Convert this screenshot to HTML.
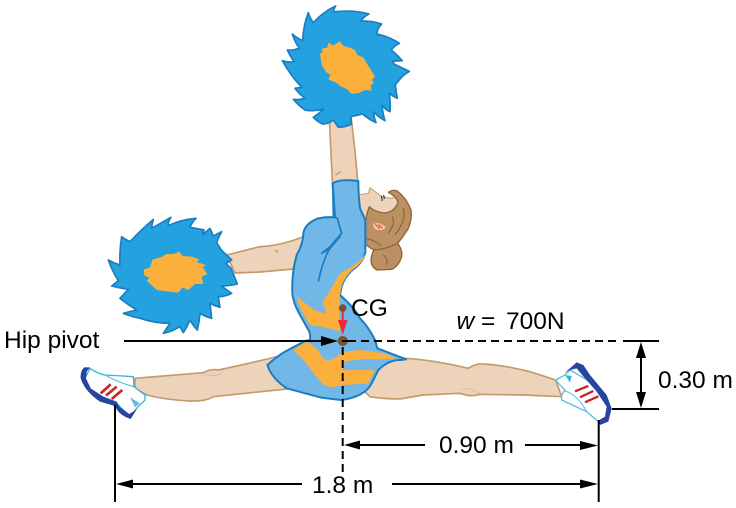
<!DOCTYPE html>
<html lang="en">
<head>
<meta charset="utf-8">
<title>Cheerleader center of gravity diagram</title>
<style>
html,body{margin:0;padding:0;background:#fff;width:736px;height:508px;overflow:hidden}
svg{display:block}
text{font-family:"Liberation Sans",sans-serif;font-size:24.5px;fill:#000}
</style>
</head>
<body>
<svg width="736" height="508" viewBox="0 0 736 508" xmlns="http://www.w3.org/2000/svg">

<!-- raised arm and upper pom pom -->
<g transform="translate(270,0) scale(0.33333)">
  <path d="M178,350 Q182,450 188,560 L264,560 Q258,470 243,350 Z" fill="#eed3bb" stroke="#c49a6c" stroke-width="5"/>
  <path d="M196,525 L212,516" stroke="#c49a6c" stroke-width="4" fill="none"/>
  <path d="M197,18 Q190,28 192,36 Q245,28 297,42 Q280,50 273,63 Q305,62 335,72 Q322,85 320,102 Q358,110 388,130 Q372,138 364,150 Q382,165 397,182 L368,184 L372,192 L418,214 Q398,225 386,242 L376,254 Q378,275 382,295 Q370,290 358,280 Q362,310 360,335 Q348,330 336,316 Q338,340 345,362 Q326,352 310,335 Q312,352 318,368 Q296,358 278,342 L243,350 Q242,362 245,372 Q225,382 205,382 L190,360 Q175,372 158,372 Q142,365 130,352 Q145,342 160,328 Q130,335 105,330 Q85,316 70,298 Q88,300 105,295 Q88,282 75,265 L95,262 Q60,225 37,182 Q55,188 72,185 Q60,168 52,150 Q70,152 88,145 Q74,125 67,102 Q82,115 98,122 Q100,75 115,38 Q120,55 130,68 Q160,35 197,18 Z" fill="#23a2df" stroke="#1c7cc0" stroke-width="5" stroke-linejoin="round"/>
  <path d="M150,162 L158,155 L155,146 L172,143 L175,128 L190,136 L210,124 L220,138 L238,142 L255,150 L262,165 L280,172 L290,190 L300,205 L315,230 L305,240 L312,248 L302,256 L305,272 L285,270 L270,278 L245,282 L232,268 L210,258 L198,248 L175,238 L182,225 L168,216 L155,195 Z" fill="#fbaf3c"/>
</g>

<!-- head, coordinates of torso crop -->
<g transform="translate(260,175) scale(0.33333)">
  <path d="M-100,240 L0,215 Q65,212 130,185 L130,270 L100,282 L0,291 L-75,294 Z" fill="#eed3bb" stroke="#c49a6c" stroke-width="5"/>
  <path d="M44,226 L54,224 L52,235 Z" fill="#c49a6c"/>
  <path d="M290,60 L325,55 L330,38 L365,65 L395,70 L414,60 L416,85 L395,110 L360,118 L330,100 L322,135 L316,170 L290,120 Z" fill="#eed3bb" stroke="#c49a6c" stroke-width="3" stroke-linejoin="round"/>
  <path d="M385,52 Q400,42 412,48 Q440,70 453,105 Q456,135 445,160 Q430,185 413,205 Q428,225 425,245 Q415,275 395,283 L350,285 Q333,275 333,255 Q335,235 342,225 Q322,215 316,205 L316,150 Q318,120 328,95 Q345,112 375,114 Q405,110 414,82 Q410,65 385,52 Z" fill="#bb9063" stroke="#8f6335" stroke-width="4" stroke-linejoin="round"/>
  <path d="M342,225 Q380,222 413,205 M430,100 Q440,135 405,180 M395,125 Q410,140 385,175 M318,190 Q340,195 365,212 M370,240 Q385,250 380,270" stroke="#8f6335" stroke-width="3.5" fill="none"/>
  <path d="M338,148 Q352,136 378,156 Q372,168 352,166 Q340,160 338,148 Z" fill="#eed3bb" stroke="#c49a6c" stroke-width="2"/>
  <path d="M345,147 L360,162 M355,148 L368,160" stroke="#f26b3a" stroke-width="5" fill="none"/>
  <path d="M364,62 L367,78 M371,60 L373,72" stroke="#222" stroke-width="3" fill="none"/>
</g>

<!-- left pom pom -->
<g transform="translate(100,210) scale(0.33333)">
  <path d="M213,22 Q203,35 205,47 Q245,28 288,25 Q275,38 270,52 L312,60 L308,74 L330,55 L340,78 L365,65 Q356,80 350,98 L364,120 L395,150 L378,160 L393,175 L412,222 Q388,228 365,228 Q380,240 395,250 Q375,260 355,260 L360,292 Q345,288 330,280 L335,325 Q315,320 300,310 Q298,335 292,360 Q278,345 270,330 Q262,350 250,368 L240,350 Q215,365 190,370 Q200,355 210,340 Q165,340 120,325 Q95,320 70,310 Q90,305 110,300 Q85,285 60,265 Q72,252 85,238 Q60,235 35,228 L55,212 Q35,180 25,150 Q42,160 60,165 Q58,120 65,80 Q78,90 90,95 Q125,58 160,28 Q156,42 155,55 Q185,38 213,22 Z" fill="#23a2df" stroke="#1c7cc0" stroke-width="5" stroke-linejoin="round"/>
  <path d="M132,178 L150,172 L158,148 L182,142 L200,132 L220,132 L238,125 L248,138 L275,140 L298,148 L290,156 L318,165 L308,172 L322,192 L305,200 L310,222 L285,222 L265,240 L248,232 L235,248 L208,245 L170,240 L155,226 L140,212 L148,204 L132,195 Z" fill="#fbaf3c"/>
</g>

<!-- left leg, right leg -->
<g transform="translate(90,200) scale(0.33333)">
  <path d="M135,535 L340,518 Q365,505 385,510 Q480,490 580,465 L610,565 L370,590 Q345,605 300,603 Q230,600 170,585 L135,565 Z" fill="#eed3bb" stroke="#c49a6c" stroke-width="5"/>
  <path d="M340,520 Q370,535 398,518" stroke="#dcbfa2" stroke-width="3" fill="none"/>
</g>
<g transform="translate(390,300) scale(0.33333)">
  <path d="M-60,150 L45,175 Q130,180 235,205 Q255,190 280,192 Q340,195 420,215 L497,240 L515,290 L400,285 L270,283 Q240,292 210,280 L100,285 L30,297 Q-20,297 -60,290 L-90,260 Z" fill="#eed3bb" stroke="#c49a6c" stroke-width="5"/>
  <path d="M212,272 Q225,255 270,280" stroke="#dcbfa2" stroke-width="3" fill="none"/>
</g>

<!-- dress -->
<g transform="translate(260,175) scale(0.33333)">
  <path d="M218,25 Q240,10 295,18 Q295,60 300,100 L316,135 L316,230 Q312,255 290,275 Q255,300 245,335 L240,360 Q285,400 300,430 Q325,455 345,495 L352,520 L438,553 L420,555 Q385,555 355,585 L335,625 Q315,665 245,675 Q200,670 180,667 L80,640 Q35,610 22,570 Q50,545 75,530 L135,498 L150,495 Q152,480 148,470 L120,420 Q95,375 97,345 Q95,295 110,240 Q130,205 130,175 Q135,145 175,130 Q200,125 225,127 Z" fill="#71b7e7" stroke="#1c7cc0" stroke-width="6" stroke-linejoin="round"/>
  <path d="M316,238 Q312,255 290,275 Q255,300 245,335 L240,360 L238,405 L240,470 L195,457 L150,450 Q130,420 115,385 L100,335 L108,365 L130,380 L160,403 L200,417 L187,380 L205,355 L240,295 Q290,270 316,238 Z" fill="#fbaf3c"/>
  <path d="M100,525 L140,500 L170,520 L190,550 L205,558 L230,545 L250,530 L300,525 L375,535 L410,550 L370,553 L300,553 L255,560 L248,585 L345,585 L325,625 L250,630 L215,637 L190,630 L165,600 L130,555 Z" fill="#fbaf3c"/>
  <path d="M240,360 Q285,400 300,430 Q325,455 345,495 L352,520 M316,135 L316,230" stroke="#1c7cc0" stroke-width="5" fill="none"/>
  <path d="M222,127 L232,130 L245,175 L210,215 L185,235 L208,222 L240,185 L210,220 Q190,250 175,320" stroke="#1c7cc0" stroke-width="5" fill="none" stroke-linejoin="round"/>
  <path d="M218,25 L220,127" stroke="#1c7cc0" stroke-width="5" fill="none"/>
</g>

<!-- left shoe -->
<g transform="translate(70,350) scale(0.33333)">
  <path d="M60,55 Q85,72 105,75 L190,80 L192,110 L225,135 L225,150 L200,175 L180,200 L140,160 L60,125 L45,85 Z" fill="#fff" stroke="#39b5dc" stroke-width="4" stroke-linejoin="round"/>
  <path d="M105,75 Q150,100 192,110" stroke="#39b5dc" stroke-width="3" fill="none"/>
  <path d="M60,52 L42,52 Q30,65 32,85 Q45,125 90,155 L135,168 Q145,195 182,207 L200,178 L178,192 L150,172 L140,155 L100,140 L62,115 L48,85 L50,65 Z" fill="#27449e"/>
  <path d="M122,103 L92,130 M140,110 L108,137 M157,120 L125,147" stroke="#c9232e" stroke-width="8" fill="none"/>
  <path d="M180,142 L210,160 L195,172 Z" fill="#6db9e0"/>
</g>

<!-- right shoe -->
<g transform="translate(390,300) scale(0.33333)">
  <path d="M497,240 L525,225 L540,210 L600,245 L650,310 L660,340 L640,365 L625,365 L590,335 L515,300 L515,285 L525,270 L510,255 Z" fill="#fff" stroke="#5cbde6" stroke-width="4" stroke-linejoin="round"/>
  <path d="M520,272 Q560,280 590,335" stroke="#5cbde6" stroke-width="3" fill="none"/>
  <path d="M525,218 L560,187 L580,195 L600,225 L650,285 L665,325 L655,365 L630,375 L625,362 L645,350 L650,320 L620,275 L585,235 L560,205 L540,210 Z" fill="#27449e"/>
  <path d="M555,274 L595,258 M570,292 L610,273 M585,307 L625,289" stroke="#c9232e" stroke-width="7" fill="none"/>
  <path d="M525,225 L540,248 L545,228 Z" fill="#39b5dc"/>
</g>

<!-- dimension lines -->
<g stroke="#000" stroke-width="2" fill="none">
  <line x1="124" y1="341" x2="325" y2="341"/>
  <line x1="348" y1="341" x2="620" y2="341" stroke-dasharray="8 5"/>
  <line x1="342.7" y1="347" x2="342.7" y2="474" stroke-dasharray="8 5"/>
  <line x1="623" y1="341" x2="659" y2="341"/>
  <line x1="612" y1="409" x2="659" y2="409"/>
  <line x1="641" y1="345" x2="641" y2="405"/>
  <line x1="598.7" y1="420" x2="598.7" y2="502"/>
  <line x1="115" y1="405" x2="115" y2="502"/>
  <line x1="358" y1="445" x2="425" y2="445"/>
  <line x1="525" y1="445" x2="582" y2="445"/>
  <line x1="130" y1="484" x2="302" y2="484"/>
  <line x1="392" y1="484" x2="582" y2="484"/>
</g>
<g fill="#000">
  <path d="M321,336 L338,341 L321,346 Z"/>
  <path d="M641,342 L646,358 L636,358 Z"/>
  <path d="M641,408 L646,392 L636,392 Z"/>
  <path d="M344,445 L360,440.5 L360,449.5 Z"/>
  <path d="M598,445.5 L580,441 L580,450 Z"/>
  <path d="M116,484 L133,479.5 L133,488.5 Z"/>
  <path d="M598,484 L580,479.5 L580,488.5 Z"/>
</g>

<!-- CG marks -->
<line x1="342.7" y1="311" x2="342.7" y2="322" stroke="#ed2939" stroke-width="2"/>
<path d="M338,320 L347.5,320 L342.7,335 Z" fill="#ed2939"/>
<circle cx="342.7" cy="308" r="3.8" fill="#7b5230"/>
<circle cx="342.7" cy="341" r="5" fill="#7b5230"/>
<rect x="342" y="340" width="6" height="2" fill="#000"/>

<!-- labels -->
<text x="4" y="348">Hip pivot</text>
<text x="351" y="316">CG</text>
<text y="329"><tspan x="456.5" font-style="italic">w</tspan><tspan x="481">=</tspan><tspan x="506">700N</tspan></text>
<text x="658" y="388">0.30 m</text>
<text x="439" y="453">0.90 m</text>
<text x="312" y="493">1.8 m</text>
</svg>
</body>
</html>
